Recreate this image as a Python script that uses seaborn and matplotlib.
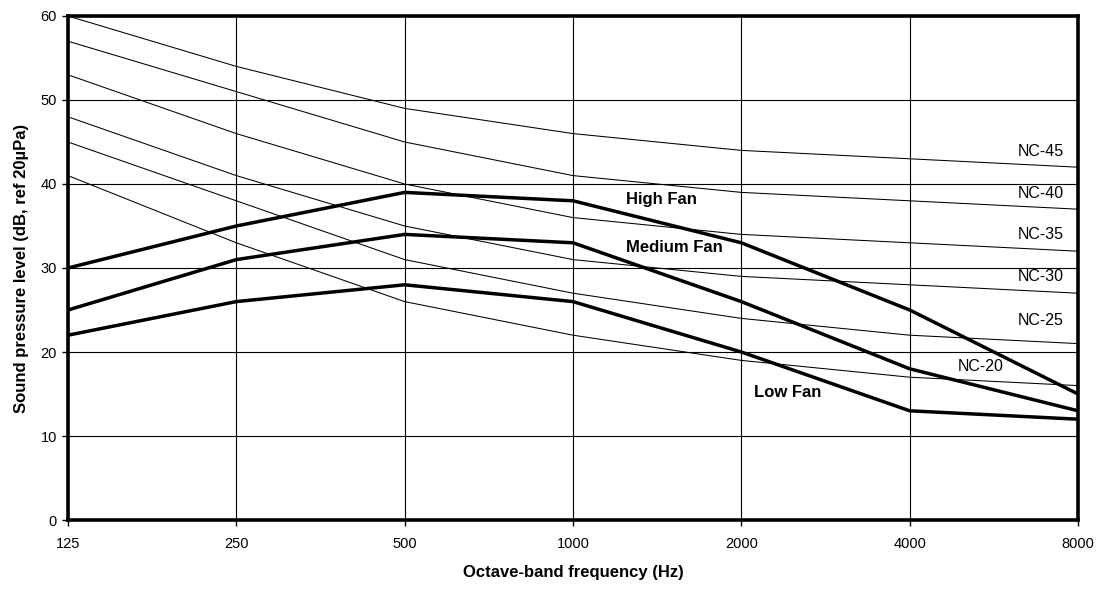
import numpy as np
import pandas as pd
import seaborn as sns
import matplotlib.pyplot as plt

# octave bands and levels
freqs = ['125', '250', '500', '1000', '2000', '4000', '8000']

nc_names = ['NC-45', 'NC-40', 'NC-35', 'NC-30', 'NC-25', 'NC-20']
nc45 = [60, 54, 49, 46, 44, 43, 42]
nc40 = [57, 51, 45, 41, 39, 38, 37]
nc35 = [53, 46, 40, 36, 34, 33, 32]
nc30 = [48, 41, 35, 31, 29, 28, 27]
nc25 = [45, 38, 31, 27, 24, 22, 21]
nc20 = [41, 33, 26, 22, 19, 17, 16]

fan_names = ['High Fan', 'Medium Fan', 'Low Fan']
high_fan = [30, 35, 39, 38, 33, 25, 15]
medium_fan = [25, 31, 34, 33, 26, 18, 13]
low_fan = [22, 26, 28, 26, 20, 13, 12]

pos = np.arange(len(freqs))

rows = []
for name, vals in zip(nc_names, [nc45, nc40, nc35, nc30, nc25, nc20]):
    for p, v in zip(pos, vals):
        rows.append((name, 'nc', p, v))
for name, vals in zip(fan_names, [high_fan, medium_fan, low_fan]):
    for p, v in zip(pos, vals):
        rows.append((name, 'fan', p, v))
df = pd.DataFrame(rows, columns=['curve', 'kind', 'band', 'level'])

sns.set_style('white', {'text.color': 'black', 'axes.labelcolor': 'black',
                        'xtick.color': 'black', 'ytick.color': 'black'})
plt.rcParams['font.family'] = ['Liberation Sans', 'DejaVu Sans']

fig, ax = plt.subplots(figsize=(11.05, 5.92), dpi=100)
fig.subplots_adjust(left=0.0615, right=0.9756, top=0.973, bottom=0.1216)

ax.set_axisbelow(True)
ax.grid(True, color='black', linewidth=0.8)

sns.lineplot(data=df[df.kind == 'nc'], x='band', y='level', units='curve',
             estimator=None, color='black', linewidth=0.75, ax=ax, legend=False)
sns.lineplot(data=df[df.kind == 'fan'], x='band', y='level', units='curve',
             estimator=None, color='black', linewidth=2.5, ax=ax, legend=False)

ax.set_xlim(pos[0], pos[-1])
ax.set_ylim(0, 60)
ax.set_xticks(pos)
ax.set_xticklabels(freqs)
ax.set_yticks(np.arange(0, 61, 10))
ax.tick_params(axis='both', direction='out', length=4, width=1, color='black',
               labelcolor='black', labelsize=10.5, bottom=True, left=True)
ax.tick_params(axis='x', pad=8)
ax.tick_params(axis='y', pad=4)

for s in ax.spines.values():
    s.set_visible(True)
    s.set_color('black')
    s.set_linewidth(2.6)

ax.set_xlabel('Octave-band frequency (Hz)', fontsize=12, fontweight='bold',
              labelpad=10, color='black')
ax.set_ylabel('Sound pressure level (dB, ref 20µPa)', fontsize=12, fontweight='bold',
              labelpad=8, color='black')

# curve labels
nc_label_pos = [(5.78, 43.9), (5.78, 38.9), (5.78, 34.0), (5.78, 29.0), (5.78, 23.7), (5.42, 18.3)]
for name, (x, y) in zip(nc_names, nc_label_pos):
    ax.text(x, y, name, fontsize=11.5, ha='center', va='center', color='black')

fan_label_pos = [(3.315, 38.1), (3.315, 32.4), (4.075, 15.2)]
for name, (x, y) in zip(fan_names, fan_label_pos):
    ax.text(x, y, name, fontsize=12, fontweight='bold', ha='left', va='center', color='black')

plt.savefig('out.png', dpi=100)
